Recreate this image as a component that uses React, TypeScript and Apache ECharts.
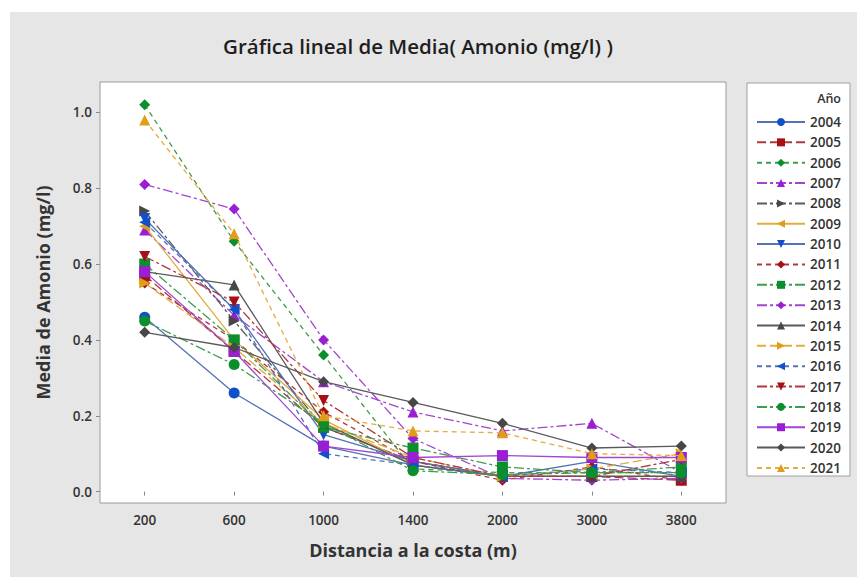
import React, { useEffect, useRef } from "react";
import * as echarts from "echarts";

const distancias = ["200", "600", "1000", "1400", "2000", "3000", "3800"];
const yTicks = [0, 0.2, 0.4, 0.6, 0.8, 1.0];

const a2004 = [0.46, 0.26, 0.12, 0.07, 0.04, 0.04, 0.04];
const a2005 = [0.57, 0.37, 0.17, 0.08, 0.04, 0.04, 0.03];
const a2006 = [1.02, 0.66, 0.36, 0.06, 0.05, 0.05, 0.05];
const a2007 = [0.69, 0.465, 0.29, 0.21, 0.16, 0.18, 0.05];
const a2008 = [0.74, 0.45, 0.17, 0.08, 0.04, 0.04, 0.04];
const a2009 = [0.70, 0.40, 0.19, 0.07, 0.04, 0.04, 0.04];
const a2010 = [0.72, 0.48, 0.15, 0.08, 0.04, 0.08, 0.04];
const a2011 = [0.55, 0.40, 0.21, 0.08, 0.03, 0.065, 0.03];
const a2012 = [0.60, 0.40, 0.17, 0.115, 0.065, 0.05, 0.065];
const a2013 = [0.81, 0.745, 0.40, 0.14, 0.035, 0.03, 0.035];
const a2014 = [0.58, 0.545, 0.18, 0.07, 0.04, 0.04, 0.04];
const a2015 = [0.55, 0.38, 0.18, 0.09, 0.04, 0.06, 0.10];
const a2016 = [0.71, 0.48, 0.10, 0.07, 0.04, 0.06, 0.05];
const a2017 = [0.62, 0.50, 0.24, 0.09, 0.04, 0.04, 0.085];
const a2018 = [0.45, 0.335, 0.18, 0.055, 0.045, 0.05, 0.05];
const a2019 = [0.58, 0.37, 0.12, 0.09, 0.095, 0.09, 0.09];
const a2020 = [0.42, 0.38, 0.29, 0.235, 0.18, 0.115, 0.12];
const a2021 = [0.98, 0.68, 0.20, 0.16, 0.155, 0.10, 0.095];

const years = ["2004", "2005", "2006", "2007", "2008", "2009", "2010", "2011", "2012", "2013", "2014", "2015", "2016", "2017", "2018", "2019", "2020", "2021"];
const values = [a2004, a2005, a2006, a2007, a2008, a2009, a2010, a2011, a2012, a2013, a2014, a2015, a2016, a2017, a2018, a2019, a2020, a2021];

const C = {
  blue: ["#1150c8", "#5472b4"],
  red: ["#a50f15", "#b03a3a"],
  green: ["#0a8f2e", "#3d9d4c"],
  purple: ["#9a1fd4", "#a345d2"],
  gray: ["#474747", "#5a5a5a"],
  orange: ["#e09d18", "#e3ab40"],
};
const TRI_R = "path://M0,0L10,5L0,10Z";
const TRI_L = "path://M10,0L0,5L10,10Z";
const TRI_D = "path://M0,0L10,0L5,10Z";
const SOLID = "solid";
const DASH: number[] = [5, 4];
const LDASH: number[] = [9, 4];
const DDOT: number[] = [10, 3, 3, 3];

const styles: [string[], string, any][] = [
  [C.blue, "circle", SOLID],
  [C.red, "rect", LDASH],
  [C.green, "diamond", DASH],
  [C.purple, "triangle", DDOT],
  [C.gray, TRI_R, DDOT],
  [C.orange, TRI_L, SOLID],
  [C.blue, TRI_D, SOLID],
  [C.red, "diamond", DASH],
  [C.green, "rect", DDOT],
  [C.purple, "diamond", DDOT],
  [C.gray, "triangle", SOLID],
  [C.orange, TRI_R, LDASH],
  [C.blue, TRI_L, DASH],
  [C.red, TRI_D, DDOT],
  [C.green, "circle", DDOT],
  [C.purple, "rect", SOLID],
  [C.gray, "diamond", SOLID],
  [C.orange, "triangle", DASH],
];

const FONT = "'Open Sans', 'Noto Sans', sans-serif";

export default function App() {
  const ref = useRef<HTMLDivElement>(null);
  useEffect(() => {
    if (!ref.current) return;
    const chart = echarts.init(ref.current, undefined, { renderer: "svg" });
    const series = years.map((y, i) => {
      const [col, sym, lt] = styles[i];
      return {
        name: y,
        type: "line",
        data: values[i],
        symbol: sym,
        symbolSize: 11,
        showSymbol: true,
        itemStyle: { color: col[0] },
        lineStyle: { color: col[1], width: 1.3, type: lt },
        z: 3 + i,
      };
    });
    chart.setOption({
      animation: false,
      backgroundColor: "#ffffff",
      graphic: [
        { type: "rect", z: -10, shape: { x: 10, y: 12, width: 847, height: 565 }, style: { fill: "#e6e6e6" }, silent: true },
        { type: "rect", z: -5, shape: { x: 747, y: 83, width: 103, height: 393 }, style: { fill: "#ffffff", stroke: "#a0a0a0", lineWidth: 1 }, silent: true },
        { type: "text", x: 841, y: 98, style: { text: "Año", fill: "#333", font: `600 12.5px ${FONT}`, align: "right", verticalAlign: "middle" } },
      ],
      title: {
        text: "Gráfica lineal de Media( Amonio (mg/l) )",
        left: 413,
        top: 30,
        textAlign: "center",
        textStyle: { fontFamily: FONT, fontSize: 20.5, fontWeight: 600, color: "#1e1e1e" },
      },
      legend: {
        orient: "vertical",
        left: 751,
        top: 110,
        itemWidth: 48,
        itemHeight: 10,
        itemGap: 6.35,
        data: years,
        textStyle: { fontFamily: FONT, fontSize: 13.5, color: "#333", fontWeight: 600 },
        selectedMode: false,
      },
      grid: {
        left: 100,
        top: 82,
        width: 626,
        height: 421,
        show: true,
        backgroundColor: "#ffffff",
        borderColor: "#9a9a9a",
        borderWidth: 1,
      },
      xAxis: {
        type: "category",
        data: distancias,
        boundaryGap: true,
        name: "Distancia a la costa (m)",
        nameLocation: "middle",
        nameGap: 38,
        nameTextStyle: { fontFamily: FONT, fontSize: 18, fontWeight: "bold", color: "#333" },
        axisLine: { show: false },
        axisTick: { show: true, alignWithLabel: true, length: 4, lineStyle: { color: "#888" } },
        axisLabel: { fontFamily: FONT, fontSize: 13.5, fontWeight: 600, color: "#333", margin: 10 },
        splitLine: { show: false },
      },
      yAxis: {
        type: "value",
        min: -0.03,
        max: 1.08,
        name: "Media de Amonio (mg/l)",
        nameLocation: "middle",
        nameGap: 48,
        nameTextStyle: { fontFamily: FONT, fontSize: 18, fontWeight: "bold", color: "#333" },
        axisLine: { show: false },
        axisTick: { show: true, length: 4, lineStyle: { color: "#888" }, customValues: yTicks },
        axisLabel: {
          fontFamily: FONT, fontSize: 13.5, fontWeight: 600, color: "#333", margin: 8,
          customValues: yTicks,
          formatter: (v: number) => v.toFixed(1),
        },
        splitLine: { show: false },
      },
      series,
    });
    return () => chart.dispose();
  }, []);
  return <div ref={ref} style={{ position: "fixed", left: 0, top: 0, width: 859, height: 578 }} />;
}
